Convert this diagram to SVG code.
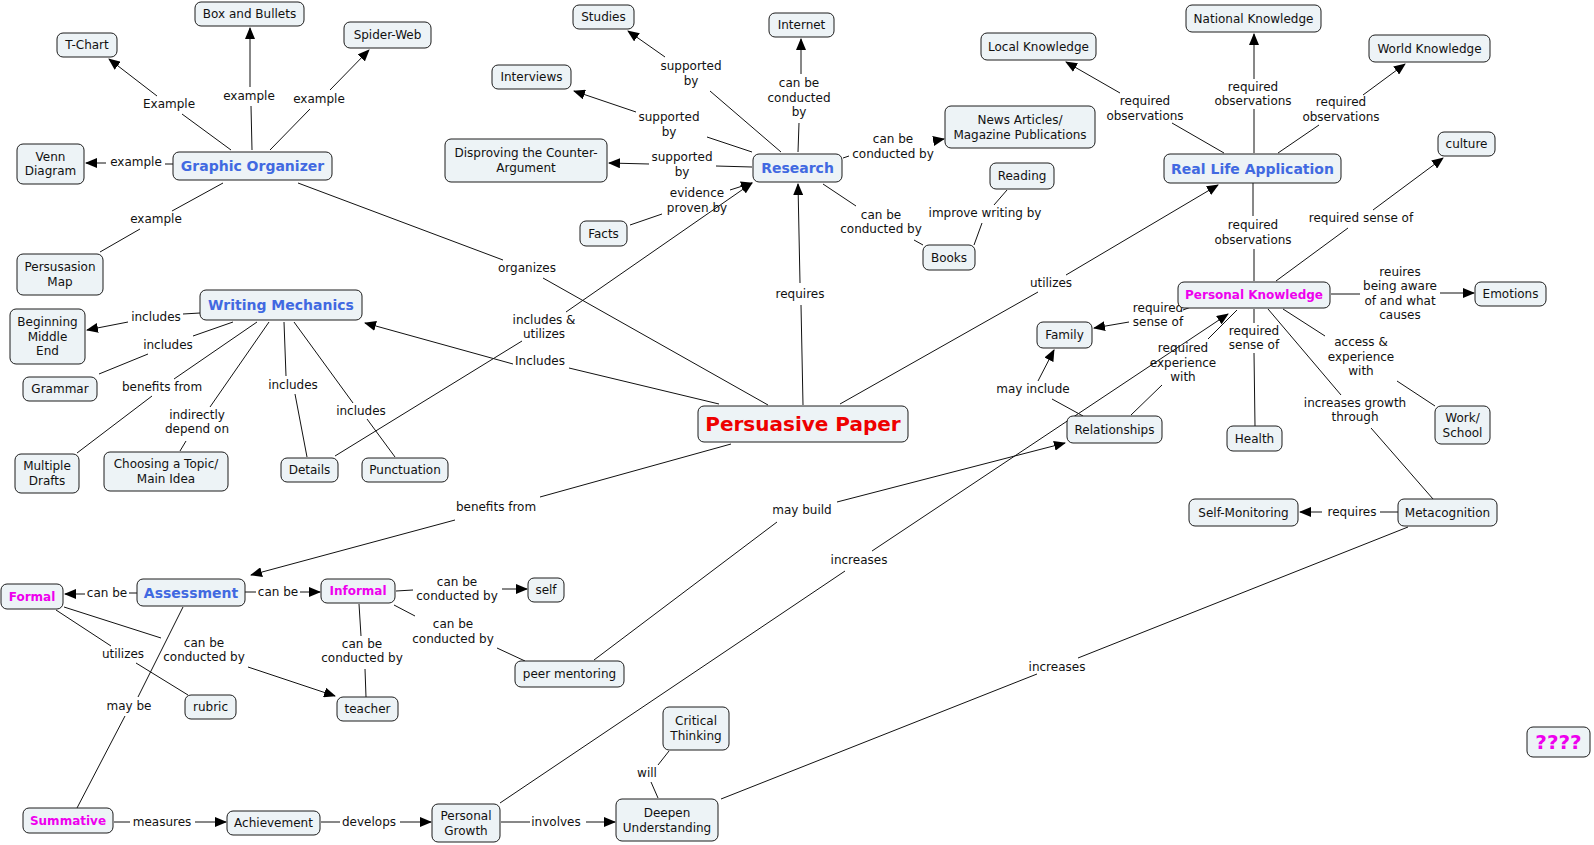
<svg xmlns="http://www.w3.org/2000/svg" width="1594" height="845" viewBox="0 0 1594 845">
<style>
  .n rect { fill:#EDF3F6; stroke:#1c1c1c; stroke-width:1; }
  text { font-family:"DejaVu Sans", Verdana, "Liberation Sans", sans-serif; font-size:12px; fill:#111; text-anchor:middle; }
  .h { font-weight:bold; font-size:14px; fill:#4169E1; }
  .m { font-weight:bold; fill:#EE00EE; }
  .big { font-weight:bold; font-size:20px; fill:#EE0000; }
  .q { font-weight:bold; font-size:20px; fill:#EE00EE; }
  #connectors line { stroke:#111; stroke-width:1; fill:none; }
  #connectors line.a { marker-end:url(#ah); }
</style>
<defs>
  <marker id="ah" markerWidth="12" markerHeight="10" refX="11" refY="5" orient="auto" markerUnits="userSpaceOnUse">
    <path d="M0,0 L12,5 L0,10 z" fill="#000"/>
  </marker>
</defs>
<rect width="1594" height="845" fill="#fff"/>

<g id="connectors">
  <g id="e-go-tchart"><line x1="231" y1="150" x2="182" y2="114"/><line class="a" x1="157" y1="96" x2="109" y2="59"/><text x="169" y="108">Example</text></g>
  <g id="e-go-box"><line x1="252" y1="150" x2="251" y2="106"/><line class="a" x1="250" y1="87" x2="250" y2="28"/><text x="249" y="100">example</text></g>
  <g id="e-go-spider"><line x1="270" y1="150" x2="310" y2="109"/><line class="a" x1="330" y1="90" x2="369" y2="50"/><text x="319" y="103">example</text></g>
  <g id="e-go-venn"><line x1="173" y1="164" x2="165" y2="164"/><line class="a" x1="106" y1="163" x2="86" y2="163"/><text x="136" y="166">example</text></g>
  <g id="e-go-map"><line x1="223" y1="183" x2="172" y2="211"/><line x1="140" y1="229" x2="100" y2="252"/><text x="156" y="223">example</text></g>
  <g id="e-go-pp"><line x1="298" y1="183" x2="503" y2="260"/><line x1="543" y1="278" x2="768" y2="405"/><text x="527" y="272">organizes</text></g>

  <g id="e-res-studies"><line x1="781" y1="152" x2="710" y2="91"/><line class="a" x1="665" y1="57" x2="628" y2="31"/><text x="691" y="70">supported</text><text x="691" y="85">by</text></g>
  <g id="e-res-interviews"><line x1="752" y1="152" x2="707" y2="137"/><line class="a" x1="636" y1="112" x2="574" y2="91"/><text x="669" y="121">supported</text><text x="669" y="136">by</text></g>
  <g id="e-res-disproving"><line x1="752" y1="167" x2="716" y2="166"/><line class="a" x1="649" y1="164" x2="609" y2="163"/><text x="682" y="161">supported</text><text x="682" y="176">by</text></g>
  <g id="e-facts-res"><line x1="630" y1="225" x2="662" y2="214"/><line class="a" x1="730" y1="190" x2="752" y2="183"/><text x="697" y="197">evidence</text><text x="697" y="212">proven by</text></g>
  <g id="e-res-internet"><line x1="798" y1="152" x2="799" y2="123"/><line class="a" x1="801" y1="74" x2="801" y2="39"/><text x="799" y="87">can be</text><text x="799" y="102">conducted</text><text x="799" y="116">by</text></g>
  <g id="e-res-news"><line x1="843" y1="158" x2="849" y2="156"/><line class="a" x1="933" y1="141" x2="944" y2="139"/><text x="893" y="143">can be</text><text x="893" y="158">conducted by</text></g>
  <g id="e-res-books"><line x1="823" y1="184" x2="856" y2="206"/><line x1="914" y1="240" x2="923" y2="245"/><text x="881" y="219">can be</text><text x="881" y="233">conducted by</text></g>
  <g id="e-reading-books"><line x1="1007" y1="190" x2="994" y2="205"/><line x1="982" y1="223" x2="974" y2="245"/><text x="985" y="217">improve writing by</text></g>

  <g id="e-rla-local"><line x1="1224" y1="153" x2="1172" y2="123"/><line class="a" x1="1120" y1="93" x2="1066" y2="62"/><text x="1145" y="105">required</text><text x="1145" y="120">observations</text></g>
  <g id="e-rla-national"><line x1="1254" y1="153" x2="1254" y2="109"/><line class="a" x1="1254" y1="79" x2="1254" y2="34"/><text x="1253" y="91">required</text><text x="1253" y="105">observations</text></g>
  <g id="e-rla-world"><line x1="1278" y1="153" x2="1319" y2="125"/><line class="a" x1="1363" y1="95" x2="1405" y2="64"/><text x="1341" y="106">required</text><text x="1341" y="121">observations</text></g>
  <g id="e-rla-pk"><line x1="1253" y1="183" x2="1253" y2="216"/><line x1="1254" y1="249" x2="1254" y2="281"/><text x="1253" y="229">required</text><text x="1253" y="244">observations</text></g>
  <g id="e-pk-culture"><line x1="1276" y1="281" x2="1348" y2="228"/><line class="a" x1="1373" y1="210" x2="1443" y2="158"/><text x="1361" y="222">required sense of</text></g>

  <g id="e-pp-rla"><line x1="840" y1="404" x2="1038" y2="292"/><line class="a" x1="1066" y1="275" x2="1218" y2="185"/><text x="1051" y="287">utilizes</text></g>
  <g id="e-pp-res"><line x1="803" y1="405" x2="801" y2="305"/><line class="a" x1="800" y1="283" x2="798" y2="184"/><text x="800" y="298">requires</text></g>
  <g id="e-details-res"><line x1="335" y1="456" x2="522" y2="341"/><line class="a" x1="566" y1="312" x2="752" y2="183"/><text x="544" y="324">includes &amp;</text><text x="544" y="338">utilizes</text></g>
  <g id="e-pp-wm"><line x1="719" y1="404" x2="569" y2="368"/><line class="a" x1="513" y1="364" x2="365" y2="323"/><text x="540" y="365">Includes</text></g>

  <g id="e-wm-bme"><line x1="200" y1="313" x2="183" y2="314"/><line class="a" x1="128" y1="322" x2="87" y2="330"/><text x="156" y="321">includes</text></g>
  <g id="e-wm-grammar"><line x1="233" y1="322" x2="193" y2="336"/><line x1="148" y1="354" x2="99" y2="374"/><text x="168" y="349">includes</text></g>
  <g id="e-wm-drafts"><line x1="257" y1="322" x2="174" y2="379"/><line x1="152" y1="396" x2="77" y2="453"/><text x="162" y="391">benefits from</text></g>
  <g id="e-wm-topic"><line x1="269" y1="322" x2="210" y2="407"/><line x1="186" y1="441" x2="180" y2="451"/><text x="197" y="419">indirectly</text><text x="197" y="433">depend on</text></g>
  <g id="e-wm-details"><line x1="284" y1="322" x2="286" y2="376"/><line x1="295" y1="394" x2="307" y2="457"/><text x="293" y="389">includes</text></g>
  <g id="e-wm-punct"><line x1="294" y1="322" x2="353" y2="403"/><line x1="367" y1="419" x2="395" y2="457"/><text x="361" y="415">includes</text></g>

  <g id="e-pk-emotions"><line x1="1331" y1="294" x2="1360" y2="294"/><line class="a" x1="1440" y1="293" x2="1474" y2="293"/><text x="1400" y="276">reuires</text><text x="1400" y="290">being aware</text><text x="1400" y="305">of and what</text><text x="1400" y="319">causes</text></g>
  <g id="e-pk-family"><line x1="1191" y1="307" x2="1183" y2="310"/><line class="a" x1="1129" y1="322" x2="1094" y2="328"/><text x="1158" y="312">required</text><text x="1158" y="326">sense of</text></g>
  <g id="e-rel-pk"><line x1="1131" y1="415" x2="1162" y2="385"/><line x1="1208" y1="339" x2="1237" y2="310"/><text x="1183" y="352">required</text><text x="1183" y="367">experience</text><text x="1183" y="381">with</text></g>
  <g id="e-pk-health"><line x1="1254" y1="309" x2="1254" y2="323"/><line x1="1254" y1="353" x2="1255" y2="426"/><text x="1254" y="335">required</text><text x="1254" y="349">sense of</text></g>
  <g id="e-pk-work"><line x1="1283" y1="309" x2="1325" y2="336"/><line x1="1397" y1="381" x2="1435" y2="406"/><text x="1361" y="346">access &amp;</text><text x="1361" y="361">experience</text><text x="1361" y="375">with</text></g>
  <g id="e-pk-meta"><line x1="1268" y1="309" x2="1341" y2="395"/><line x1="1371" y1="428" x2="1433" y2="499"/><text x="1355" y="407">increases growth</text><text x="1355" y="421">through</text></g>
  <g id="e-rel-family"><line x1="1083" y1="416" x2="1052" y2="399"/><line class="a" x1="1038" y1="381" x2="1054" y2="350"/><text x="1033" y="393">may include</text></g>
  <g id="e-meta-self"><line x1="1398" y1="512" x2="1380" y2="512"/><line class="a" x1="1322" y1="512" x2="1300" y2="512"/><text x="1352" y="516">requires</text></g>

  <g id="e-pp-assess"><line x1="731" y1="444" x2="540" y2="497"/><line class="a" x1="455" y1="520" x2="251" y2="575"/><text x="496" y="511">benefits from</text></g>
  <g id="e-peer-rel"><line x1="594" y1="660" x2="777" y2="522"/><line class="a" x1="837" y1="502" x2="1065" y2="443"/><text x="802" y="514">may build</text></g>
  <g id="e-growth-pk"><line x1="500" y1="803" x2="845" y2="571"/><line class="a" x1="872" y1="551" x2="1228" y2="314"/><text x="859" y="564">increases</text></g>
  <g id="e-meta-deepen"><line x1="721" y1="799" x2="1037" y2="674"/><line x1="1078" y1="658" x2="1408" y2="527"/><text x="1057" y="671">increases</text></g>

  <g id="e-assess-formal"><line x1="137" y1="593" x2="129" y2="593"/><line class="a" x1="85" y1="594" x2="65" y2="594"/><text x="107" y="597">can be</text></g>
  <g id="e-assess-informal"><line x1="245" y1="592" x2="256" y2="592"/><line class="a" x1="300" y1="592" x2="320" y2="592"/><text x="278" y="596">can be</text></g>
  <g id="e-inf-self"><line x1="396" y1="591" x2="413" y2="590"/><line class="a" x1="502" y1="589" x2="527" y2="589"/><text x="457" y="586">can be</text><text x="457" y="600">conducted by</text></g>
  <g id="e-inf-peer"><line x1="394" y1="605" x2="415" y2="616"/><line x1="497" y1="648" x2="525" y2="661"/><text x="453" y="628">can be</text><text x="453" y="643">conducted by</text></g>
  <g id="e-inf-teacher"><line x1="359" y1="604" x2="361" y2="636"/><line x1="365" y1="669" x2="366" y2="697"/><text x="362" y="648">can be</text><text x="362" y="662">conducted by</text></g>
  <g id="e-formal-teacher"><line x1="64" y1="607" x2="161" y2="638"/><line class="a" x1="248" y1="667" x2="335" y2="696"/><text x="204" y="647">can be</text><text x="204" y="661">conducted by</text></g>
  <g id="e-formal-rubric"><line x1="56" y1="610" x2="111" y2="646"/><line x1="136" y1="663" x2="188" y2="695"/><text x="123" y="658">utilizes</text></g>
  <g id="e-assess-summ"><line x1="183" y1="607" x2="138" y2="697"/><line x1="125" y1="716" x2="77" y2="808"/><text x="129" y="710">may be</text></g>
  <g id="e-summ-ach"><line x1="114" y1="822" x2="130" y2="822"/><line class="a" x1="195" y1="822" x2="226" y2="822"/><text x="162" y="826">measures</text></g>
  <g id="e-ach-growth"><line x1="321" y1="822" x2="340" y2="822"/><line class="a" x1="400" y1="822" x2="431" y2="822"/><text x="369" y="826">develops</text></g>
  <g id="e-growth-deepen"><line x1="501" y1="822" x2="530" y2="822"/><line class="a" x1="586" y1="822" x2="615" y2="822"/><text x="556" y="826">involves</text></g>
  <g id="e-deepen-critical"><line x1="658" y1="798" x2="651" y2="782"/><line x1="658" y1="765" x2="669" y2="751"/><text x="647" y="777">will</text></g>
</g>

<g id="nodes">
  <g id="n-tchart" class="n"><rect x="57" y="33" width="60" height="24" rx="6"/><text x="87" y="49">T-Chart</text></g>
  <g id="n-box" class="n"><rect x="195" y="2" width="109" height="24" rx="6"/><text x="249.5" y="18">Box and Bullets</text></g>
  <g id="n-spider" class="n"><rect x="344" y="22" width="87" height="26" rx="6"/><text x="387.5" y="39">Spider-Web</text></g>
  <g id="n-venn" class="n"><rect x="17" y="144" width="67" height="40" rx="6"/><text x="50.5" y="161">Venn</text><text x="50.5" y="175">Diagram</text></g>
  <g id="n-go" class="n"><rect x="173" y="152" width="159" height="28" rx="6"/><text class="h" x="252.5" y="171">Graphic Organizer</text></g>
  <g id="n-map" class="n"><rect x="17" y="254" width="86" height="41" rx="6"/><text x="60" y="271">Persusasion</text><text x="60" y="286">Map</text></g>
  <g id="n-wm" class="n"><rect x="200" y="290" width="162" height="30" rx="6"/><text class="h" x="281" y="310">Writing Mechanics</text></g>
  <g id="n-bme" class="n"><rect x="10" y="309" width="75" height="55" rx="6"/><text x="47.5" y="326">Beginning</text><text x="47.5" y="340.5">Middle</text><text x="47.5" y="355">End</text></g>
  <g id="n-grammar" class="n"><rect x="23" y="377" width="74" height="24" rx="6"/><text x="60" y="393">Grammar</text></g>
  <g id="n-drafts" class="n"><rect x="15" y="454" width="64" height="39" rx="6"/><text x="47" y="470">Multiple</text><text x="47" y="485">Drafts</text></g>
  <g id="n-topic" class="n"><rect x="104" y="452" width="124" height="39" rx="6"/><text x="166" y="468">Choosing a Topic/</text><text x="166" y="483">Main Idea</text></g>
  <g id="n-details" class="n"><rect x="281" y="458" width="57" height="24" rx="6"/><text x="309.5" y="474">Details</text></g>
  <g id="n-punct" class="n"><rect x="362" y="458" width="86" height="24" rx="6"/><text x="405" y="474">Punctuation</text></g>

  <g id="n-studies" class="n"><rect x="573" y="5" width="61" height="24" rx="6"/><text x="603.5" y="21">Studies</text></g>
  <g id="n-internet" class="n"><rect x="769" y="13" width="65" height="24" rx="6"/><text x="801.5" y="29">Internet</text></g>
  <g id="n-interviews" class="n"><rect x="492" y="65" width="79" height="24" rx="6"/><text x="531.5" y="81">Interviews</text></g>
  <g id="n-disproving" class="n"><rect x="445" y="139" width="162" height="43" rx="6"/><text x="526" y="157">Disproving the Counter-</text><text x="526" y="172">Argument</text></g>
  <g id="n-research" class="n"><rect x="753" y="154" width="89" height="28" rx="6"/><text class="h" x="797.5" y="173">Research</text></g>
  <g id="n-facts" class="n"><rect x="580" y="221" width="47" height="25" rx="6"/><text x="603.5" y="237.5">Facts</text></g>
  <g id="n-news" class="n"><rect x="945" y="106" width="150" height="42" rx="6"/><text x="1020" y="124">News Articles/</text><text x="1020" y="138.5">Magazine Publications</text></g>
  <g id="n-reading" class="n"><rect x="990" y="163" width="64" height="26" rx="6"/><text x="1022" y="180">Reading</text></g>
  <g id="n-books" class="n"><rect x="923" y="245" width="52" height="25" rx="6"/><text x="949" y="261.5">Books</text></g>

  <g id="n-local" class="n"><rect x="981" y="33" width="115" height="27" rx="6"/><text x="1038.5" y="50.5">Local Knowledge</text></g>
  <g id="n-national" class="n"><rect x="1186" y="5" width="135" height="27" rx="6"/><text x="1253.5" y="22.5">National Knowledge</text></g>
  <g id="n-world" class="n"><rect x="1369" y="35" width="121" height="27" rx="6"/><text x="1429.5" y="52.5">World Knowledge</text></g>
  <g id="n-rla" class="n"><rect x="1164" y="154" width="177" height="29" rx="6"/><text class="h" x="1252.5" y="173.5">Real Life Application</text></g>
  <g id="n-culture" class="n"><rect x="1438" y="132" width="57" height="24" rx="6"/><text x="1466.5" y="148">culture</text></g>
  <g id="n-pk" class="n"><rect x="1178" y="282" width="152" height="26" rx="6"/><text class="m" x="1254" y="299">Personal Knowledge</text></g>
  <g id="n-emotions" class="n"><rect x="1475" y="282" width="71" height="24" rx="6"/><text x="1510.5" y="298">Emotions</text></g>
  <g id="n-family" class="n"><rect x="1037" y="322" width="55" height="26" rx="6"/><text x="1064.5" y="339">Family</text></g>
  <g id="n-rel" class="n"><rect x="1067" y="416" width="95" height="27" rx="6"/><text x="1114.5" y="433.5">Relationships</text></g>
  <g id="n-health" class="n"><rect x="1227" y="426" width="55" height="25" rx="6"/><text x="1254.5" y="442.5">Health</text></g>
  <g id="n-work" class="n"><rect x="1435" y="406" width="55" height="38" rx="6"/><text x="1462.5" y="422">Work/</text><text x="1462.5" y="436.5">School</text></g>
  <g id="n-selfmon" class="n"><rect x="1189" y="499" width="109" height="27" rx="6"/><text x="1243.5" y="516.5">Self-Monitoring</text></g>
  <g id="n-meta" class="n"><rect x="1398" y="499" width="99" height="27" rx="6"/><text x="1447.5" y="516.5">Metacognition</text></g>

  <g id="n-pp" class="n"><rect x="698" y="406" width="210" height="36" rx="6"/><text class="big" x="803" y="431">Persuasive Paper</text></g>

  <g id="n-assess" class="n"><rect x="137" y="579" width="108" height="27" rx="6"/><text class="h" x="191" y="597.5">Assessment</text></g>
  <g id="n-formal" class="n"><rect x="1" y="584" width="62" height="25" rx="6"/><text class="m" x="32" y="600.5">Formal</text></g>
  <g id="n-informal" class="n"><rect x="321" y="579" width="74" height="24" rx="6"/><text class="m" x="358" y="595">Informal</text></g>
  <g id="n-self" class="n"><rect x="528" y="578" width="36" height="24" rx="6"/><text x="546" y="594">self</text></g>
  <g id="n-peer" class="n"><rect x="515" y="661" width="109" height="26" rx="6"/><text x="569.5" y="678">peer mentoring</text></g>
  <g id="n-rubric" class="n"><rect x="185" y="695" width="51" height="24" rx="6"/><text x="210.5" y="711">rubric</text></g>
  <g id="n-teacher" class="n"><rect x="337" y="697" width="61" height="24" rx="6"/><text x="367.5" y="713">teacher</text></g>
  <g id="n-summ" class="n"><rect x="23" y="808" width="90" height="25" rx="6"/><text class="m" x="68" y="824.5">Summative</text></g>
  <g id="n-ach" class="n"><rect x="227" y="811" width="93" height="24" rx="6"/><text x="273.5" y="827">Achievement</text></g>
  <g id="n-growth" class="n"><rect x="432" y="804" width="68" height="38" rx="6"/><text x="466" y="820">Personal</text><text x="466" y="834.5">Growth</text></g>
  <g id="n-deepen" class="n"><rect x="616" y="799" width="102" height="42" rx="6"/><text x="667" y="817">Deepen</text><text x="667" y="831.5">Understanding</text></g>
  <g id="n-critical" class="n"><rect x="663" y="707" width="66" height="43" rx="6"/><text x="696" y="725">Critical</text><text x="696" y="740">Thinking</text></g>
  <g id="n-q" class="n"><rect x="1527" y="727" width="63" height="30" rx="6"/><text class="q" x="1558.5" y="749">????</text></g>
</g>
</svg>
